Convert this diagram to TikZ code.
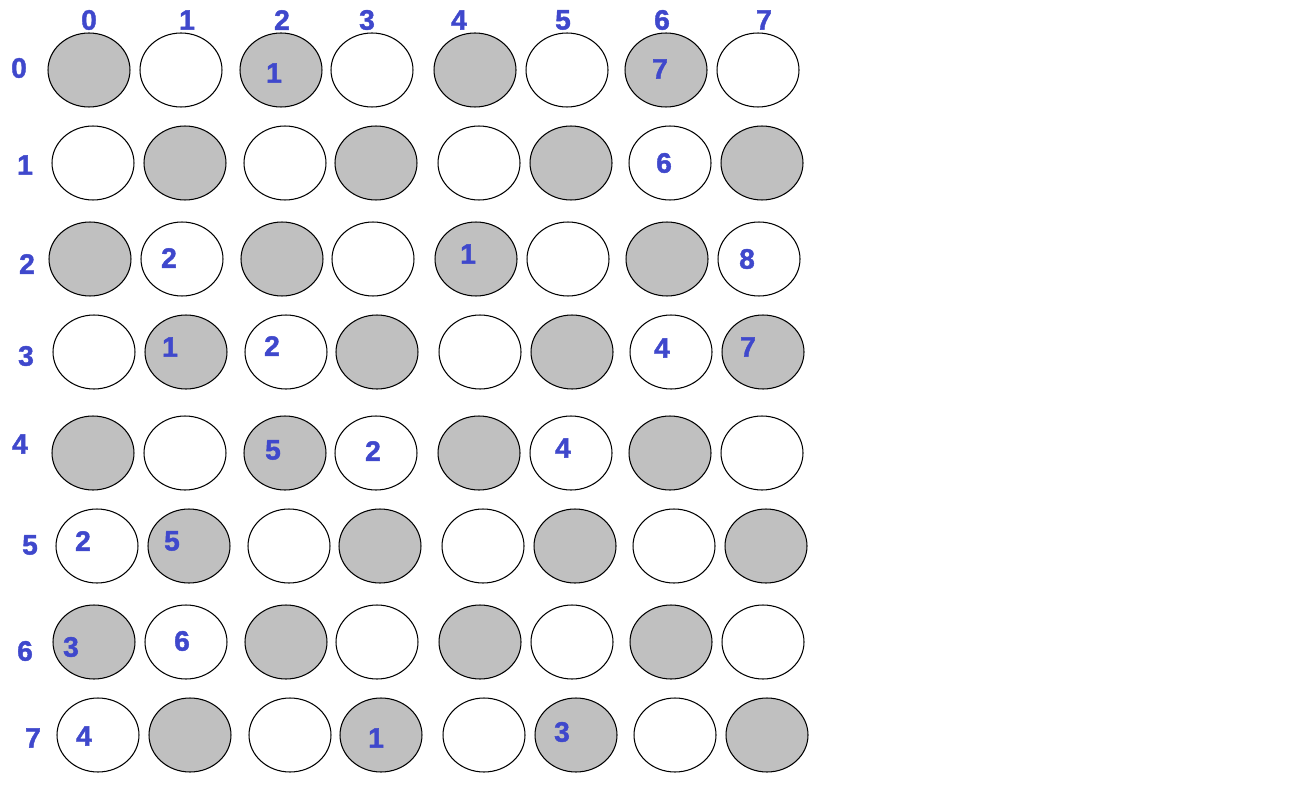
\documentclass[tikz,border=0pt]{standalone}
\usepackage{fontspec}
\setmainfont{Liberation Sans}
\newfontfamily\numfont{Liberation Sans}[BoldFont={* Bold}, BoldFeatures={FakeBold=1.5}]
\usetikzlibrary{shapes.geometric}
\definecolor{numblue}{HTML}{3F48CC}
\definecolor{cellgray}{HTML}{C0C0C0}

\begin{document}
\begin{tikzpicture}[x=0.02cm, y=-0.02cm,
    cell/.style={ellipse, draw=black, line width=0.6pt, minimum width=1.64cm,
                 minimum height=1.48cm, inner sep=0pt},
    num/.style={text=numblue, font=\numfont\fontsize{16}{16}\selectfont\bfseries, inner sep=0pt}
  ]
  \useasboundingbox (0,0) rectangle (1314,804);
  % board of cells, gray where row+col is even
  \foreach \r/\rx/\ry in {0/89/70, 1/93/163, 2/90/259, 3/94/352,
                          4/93/453, 5/97/546, 6/94/642, 7/98/735}{
    \foreach \c/\cx in {0/0, 1/92, 2/192, 3/283, 4/386, 5/478, 6/577, 7/669}{
      \pgfmathtruncatemacro{\odd}{mod(\r+\c,2)}
      \ifnum\odd=0 \def\cellfill{cellgray}\else\def\cellfill{white}\fi
      \node[cell, fill=\cellfill] (c\r\c) at (\rx+\cx,\ry) {};
    }
  }
  % column and row headers
  \foreach \c/\x in {0/89, 1/187, 2/282, 3/367, 4/459, 5/563, 6/662, 7/764}
    \node[num] (col\c) at (\x,20) {\c};
  \foreach \r/\x/\y in {0/19/68, 1/25/165, 2/27/264, 3/26/356,
                        4/20/444, 5/30/545, 6/25/651, 7/33/738}
    \node[num] (row\r) at (\x,\y) {\r};
  % numbers in the cells
  \node[num] (v02) at (274,73) {1};
  \node[num] (v06) at (660,69) {7};
  \node[num] (v16) at (664,163) {6};
  \node[num] (v21) at (169,258) {2};
  \node[num] (v24) at (468,254) {1};
  \node[num] (v27) at (747,259) {8};
  \node[num] (v31) at (170,347) {1};
  \node[num] (v32) at (272,346) {2};
  \node[num] (v36) at (662,348) {4};
  \node[num] (v37) at (748,347) {7};
  \node[num] (v42) at (273,450) {5};
  \node[num] (v43) at (373,451) {2};
  \node[num] (v45) at (563,448) {4};
  \node[num] (v50) at (83,541) {2};
  \node[num] (v51) at (172,541) {5};
  \node[num] (v60) at (71,647) {3};
  \node[num] (v61) at (182,641) {6};
  \node[num] (v70) at (84,736) {4};
  \node[num] (v73) at (376,738) {1};
  \node[num] (v75) at (562,732) {3};
\end{tikzpicture}
\end{document}
